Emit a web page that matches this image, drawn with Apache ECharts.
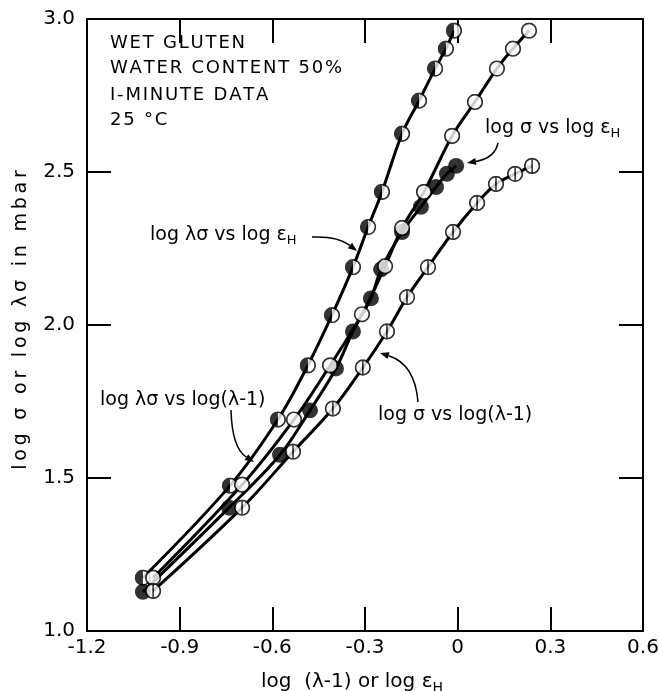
<!DOCTYPE html>
<html>
<head>
<meta charset="utf-8">
<script src="https://cdn.jsdelivr.net/npm/echarts@6/dist/echarts.min.js"></script>
<style>
  html, body { margin: 0; padding: 0; background: #fff; }
  #chart { width: 659px; height: 691px; }
</style>
</head>
<body>
<div id="chart"></div>
<script>
// log λσ vs log εH  (half filled)
var lamSigmaEps = [
  [-1.019, 1.174], [-0.737, 1.475], [-0.582, 1.691], [-0.485, 1.868], [-0.407, 2.032],
  [-0.339, 2.189], [-0.290, 2.320], [-0.245, 2.435], [-0.180, 2.625], [-0.125, 2.733],
  [-0.073, 2.838], [-0.038, 2.903], [-0.012, 2.962]
];
// log σ vs log εH  (filled)
var sigmaEps = [
  [-1.019, 1.128], [-0.740, 1.403], [-0.575, 1.576], [-0.478, 1.721], [-0.394, 1.858],
  [-0.339, 1.979], [-0.281, 2.087], [-0.248, 2.182], [-0.180, 2.304], [-0.119, 2.386],
  [-0.070, 2.451], [-0.035, 2.494], [-0.005, 2.520]
];
// log λσ vs log(λ-1)  (open)
var lamSigmaLam = [
  [-0.986, 1.174], [-0.698, 1.478], [-0.530, 1.691], [-0.413, 1.868], [-0.310, 2.035],
  [-0.235, 2.192], [-0.180, 2.317], [-0.109, 2.435], [-0.018, 2.618], [0.056, 2.729],
  [0.127, 2.838], [0.179, 2.903], [0.231, 2.962]
];
// log σ vs log(λ-1)  (circle with vertical bar)
var sigmaLam = [
  [-0.986, 1.131], [-0.698, 1.403], [-0.533, 1.586], [-0.404, 1.727], [-0.307, 1.861],
  [-0.229, 1.979], [-0.164, 2.091], [-0.096, 2.189], [-0.015, 2.304], [0.063, 2.399],
  [0.124, 2.461], [0.186, 2.494], [0.241, 2.520]
];
var xTicks = [-1.2, -0.9, -0.6, -0.3, 0, 0.3, 0.6];
var xTickLabels = ['-1.2', '-0.9', '-0.6', '-0.3', '0', '0.3', '0.6'];
var yTickLabels = ['1.0', '1.5', '2.0', '2.5', '3.0'];

var FONT = 'DejaVu Sans';
var HS = '\u200A'; // hair space, to spread letters like the original lettering

function svgSym(inner) {
  var svg = '<svg xmlns="http://www.w3.org/2000/svg" width="40" height="40" viewBox="0 0 20 20">' + inner + '</svg>';
  return 'image://data:image/svg+xml;charset=utf-8,' + encodeURIComponent(svg);
}
var ring = '<circle cx="10" cy="10" r="8.6" fill="#fff" stroke="#000" stroke-width="2"/>';
var symHalf = svgSym(ring + '<path d="M10,1.4 A8.6,8.6 0 0 0 10,18.6 Z" fill="#000"/>');
var symFilled = svgSym('<circle cx="10" cy="10" r="9.4" fill="#000"/>');
var symOpen = svgSym(ring);
var symBar = svgSym(ring + '<line x1="10" y1="1.5" x2="10" y2="18.5" stroke="#000" stroke-width="1.8"/>');

function lineSeries(data) {
  return {
    type: 'line', data: data, symbol: 'none', smooth: 0.35, z: 2,
    lineStyle: { color: '#000', width: 3 }
  };
}
function dotSeries(data, sym) {
  return { type: 'scatter', data: data, symbol: sym, symbolSize: 17, z: 3 };
}
function spread(s, sep) { return s.split('').join(sep || HS); }

var chart = echarts.init(document.getElementById('chart'));

function tickAxis(extra) {
  return Object.assign({
    axisLine: { show: true, onZero: false, lineStyle: { color: '#000', width: 2 } },
    axisTick: { show: true, inside: true, length: 24, lineStyle: { color: '#000', width: 2 } },
    splitLine: { show: false }
  }, extra);
}

chart.setOption({
  animation: false,
  backgroundColor: '#fff',
  grid: { left: 87, right: 16, top: 19, bottom: 60, outerBoundsMode: 'none', containLabel: false },
  xAxis: [
    tickAxis({
      type: 'value', min: -1.2, max: 0.6, interval: 0.3, position: 'bottom',
      name: '{a|log  (λ-1) or log ε}{s|H}', nameLocation: 'middle', nameGap: 37,
      nameTextStyle: {
        padding: [0, 26, 0, 0],
        rich: {
          a: { fontFamily: FONT, fontSize: 20, color: '#000' },
          s: { fontFamily: FONT, fontSize: 14, color: '#000', padding: [13, 0, 0, 0] }
        }
      },
      axisLabel: {
        fontFamily: FONT, fontSize: 20, color: '#000', margin: 7,
        formatter: function (v) {
          var i = xTicks.findIndex(function (t) { return Math.abs(t - v) < 1e-6; });
          return i >= 0 ? xTickLabels[i] : '';
        }
      }
    }),
    tickAxis({
      type: 'value', min: -1.2, max: 0.6, interval: 0.3, position: 'top',
      axisLabel: { show: false }
    })
  ],
  yAxis: [
    tickAxis({
      type: 'value', min: 1.0, max: 3.0, interval: 0.5, position: 'left',
      name: spread('log σ or log λσ in mbar', HS + HS), nameLocation: 'middle', nameGap: 56,
      nameTextStyle: { fontFamily: FONT, fontSize: 19, color: '#000', padding: [0, 0, 0, 10] },
      axisLabel: {
        fontFamily: FONT, fontSize: 20, color: '#000', margin: 12,
        formatter: function (v) { return yTickLabels[Math.round((v - 1) / 0.5)] || ''; }
      }
    }),
    tickAxis({
      type: 'value', min: 1.0, max: 3.0, interval: 0.5, position: 'right',
      axisLabel: { show: false }
    })
  ],
  series: [
    lineSeries(lamSigmaEps), lineSeries(sigmaEps), lineSeries(lamSigmaLam), lineSeries(sigmaLam),
    dotSeries(lamSigmaEps, symHalf), dotSeries(sigmaEps, symFilled),
    dotSeries(lamSigmaLam, symOpen), dotSeries(sigmaLam, symBar)
  ]
});

// annotations
function txt(x, y, str, size) {
  return {
    type: 'text', x: x, y: y, z: 10,
    style: {
      text: str, fill: '#000', font: (size || 19) + 'px "' + FONT + '"',
      verticalAlign: 'middle', align: 'left',
      rich: {
        s: { fontFamily: FONT, fontSize: 13, fill: '#000', padding: [11, 0, 0, 0] }
      }
    }
  };
}
function arrow(x1, y1, cx, cy, x2, y2) {
  var dx = x2 - cx, dy = y2 - cy, L = Math.sqrt(dx * dx + dy * dy);
  var ux = dx / L, uy = dy / L, hl = 9, hw = 3.5;
  var bx = x2 - ux * hl, by = y2 - uy * hl;
  return [
    { type: 'bezierCurve', z: 10, shape: { x1: x1, y1: y1, cpx1: cx, cpy1: cy, x2: bx, y2: by },
      style: { stroke: '#000', lineWidth: 1.5, fill: null } },
    { type: 'polygon', z: 10,
      shape: { points: [[x2, y2], [bx - uy * hw, by + ux * hw], [bx + uy * hw, by - ux * hw]] },
      style: { fill: '#000' } }
  ];
}

var g = [
  txt(110, 43, spread('WET GLUTEN'), 18),
  txt(110, 68, spread('WATER CONTENT 50%'), 18),
  txt(110, 95, spread('I-MINUTE DATA'), 18),
  txt(110, 120, spread('25 °C'), 18),
  txt(150, 235, 'log λσ vs log ε{s|H}'),
  txt(485, 128, 'log σ vs log ε{s|H}'),
  txt(100, 400, 'log λσ vs log(λ-1)'),
  txt(378, 415, 'log σ vs log(λ-1)')
];
g = g.concat(
  arrow(312, 237, 338, 236, 357, 251),
  arrow(498, 143, 495, 158, 467, 163),
  arrow(231, 410, 232, 448, 254, 462),
  arrow(418, 402, 415, 364, 380, 353)
);
chart.setOption({ graphic: g });
</script>
</body>
</html>
